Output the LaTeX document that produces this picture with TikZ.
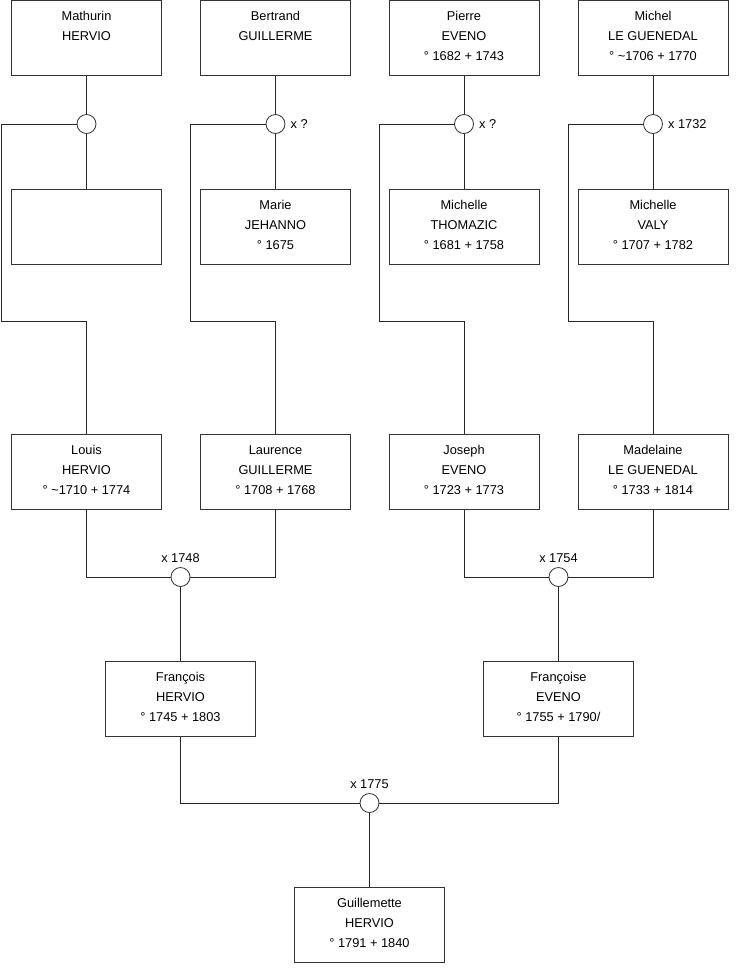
\documentclass[tikz,border=0pt]{standalone}
\usepackage{fontspec}
\setmainfont{Liberation Sans}
\newcommand\pers[3]{\strut#1\\\strut#2\\\strut#3\rule[-9pt]{0pt}{9pt}}
\begin{document}
\begin{tikzpicture}[x=1pt,y=-1pt,
  person/.style={draw=black!80,line width=0.8pt,minimum width=150pt,minimum height=75pt,
    inner sep=0pt,align=center,font=\fontsize{12.8}{20}\selectfont},
  union/.style={circle,draw=black!80,fill=white,line width=0.8pt,minimum size=19pt,inner sep=0pt},
  lbl/.style={font=\fontsize{12.8}{14}\selectfont,inner sep=0pt},
  link/.style={line width=0.8pt,draw=black!85}]
\useasboundingbox (0,0) rectangle (740,975);
% generation 1
\node[person] (m1) at (86.5,38) {\pers{Mathurin}{HERVIO}{}};
\node[person] (b1) at (275.5,38) {\pers{Bertrand}{GUILLERME}{}};
\node[person] (p1) at (464,38) {\pers{Pierre}{EVENO}{° 1682 + 1743}};
\node[person] (mi1) at (653,38) {\pers{Michel}{LE GUENEDAL}{° \textasciitilde1706 + 1770}};
% wives
\node[person] (w1) at (86.5,227) {\pers{}{}{}};
\node[person] (w2) at (275.5,227) {\pers{Marie}{JEHANNO}{° 1675}};
\node[person] (w3) at (464,227) {\pers{Michelle}{THOMAZIC}{° 1681 + 1758}};
\node[person] (w4) at (653,227) {\pers{Michelle}{VALY}{° 1707 + 1782}};
% generation 2
\node[person] (louis) at (86.5,472) {\pers{Louis}{HERVIO}{° \textasciitilde1710 + 1774}};
\node[person] (laurence) at (275.5,472) {\pers{Laurence}{GUILLERME}{° 1708 + 1768}};
\node[person] (joseph) at (464,472) {\pers{Joseph}{EVENO}{° 1723 + 1773}};
\node[person] (madelaine) at (653,472) {\pers{Madelaine}{LE GUENEDAL}{° 1733 + 1814}};
% generation 3
\node[person] (francois) at (180.5,699) {\pers{François}{HERVIO}{° 1745 + 1803}};
\node[person] (francoise) at (558.5,699) {\pers{Françoise}{EVENO}{° 1755 + 1790/}};
% generation 4
\node[person] (guil) at (369.5,925) {\pers{Guillemette}{HERVIO}{° 1791 + 1840}};
% unions
\node[union] (u1) at (86.5,124) {};
\node[union] (u2) at (275.5,124) {};
\node[union] (u3) at (464,124) {};
\node[union] (u4) at (653,124) {};
\node[union] (u5) at (180.5,577) {};
\node[union] (u6) at (558.5,577) {};
\node[union] (u7) at (369.5,803) {};
% union labels
\node[lbl,anchor=west] (x2) at ([xshift=5pt]u2.east) {x ?};
\node[lbl,anchor=west] (x3) at ([xshift=5pt]u3.east) {x ?};
\node[lbl,anchor=west] (x4) at ([xshift=5pt]u4.east) {x 1732};
\node[lbl,anchor=base] (x5) at ([yshift=5pt]u5.north) {x 1748};
\node[lbl,anchor=base] (x6) at ([yshift=5pt]u6.north) {x 1754};
\node[lbl,anchor=base] (x7) at ([yshift=5pt]u7.north) {x 1775};
% bend coordinates
\coordinate (k1a) at (1,124);   \coordinate (k1b) at (1,321);
\coordinate (k2a) at (190,124); \coordinate (k2b) at (190,321);
\coordinate (k3a) at (379,124); \coordinate (k3b) at (379,321);
\coordinate (k4a) at (568,124); \coordinate (k4b) at (568,321);
% connectors generation 1
\draw[link] (m1.south) -- (u1.north);
\draw[link] (u1.south) -- (w1.north);
\draw[link] (u1.west) -- (k1a) -- (k1b) -| (louis.north);
\draw[link] (b1.south) -- (u2.north);
\draw[link] (u2.south) -- (w2.north);
\draw[link] (u2.west) -- (k2a) -- (k2b) -| (laurence.north);
\draw[link] (p1.south) -- (u3.north);
\draw[link] (u3.south) -- (w3.north);
\draw[link] (u3.west) -- (k3a) -- (k3b) -| (joseph.north);
\draw[link] (mi1.south) -- (u4.north);
\draw[link] (u4.south) -- (w4.north);
\draw[link] (u4.west) -- (k4a) -- (k4b) -| (madelaine.north);
% generation 2
\draw[link] (louis.south) |- (u5.west);
\draw[link] (laurence.south) |- (u5.east);
\draw[link] (u5.south) -- (francois.north);
\draw[link] (joseph.south) |- (u6.west);
\draw[link] (madelaine.south) |- (u6.east);
\draw[link] (u6.south) -- (francoise.north);
% generation 3
\draw[link] (francois.south) |- (u7.west);
\draw[link] (francoise.south) |- (u7.east);
\draw[link] (u7.south) -- (guil.north);
\end{tikzpicture}
\end{document}
